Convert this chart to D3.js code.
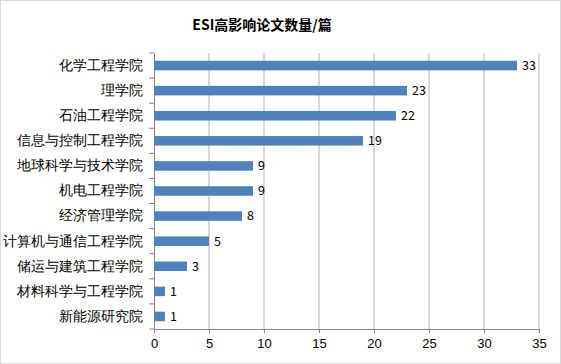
<!DOCTYPE html>
<html>
<head>
<meta charset="utf-8">
<style>
    body { margin: 0; background: #fff; }
    svg { display: block; font-family: "Noto Sans CJK SC", "Microsoft YaHei", sans-serif; }
    .y .domain, .x .domain { stroke: #868686; }
    .y .tick line, .x .tick line { stroke: #868686; }
    .tick text { fill: #000; }
    .y .tick text { font-size: 13.5px; }
    .x .tick text { font-size: 13px; }
    .grid line { stroke: #b3b3b3; }
    .label { font-size: 12.5px; fill: #000; }
</style>
</head>
<body>
<svg width="561" height="364"></svg>
<script src="https://d3js.org/d3.v7.min.js"></script>
<script>
    let colleges = ["化学工程学院", "理学院", "石油工程学院", "信息与控制工程学院", "地球科学与技术学院",
        "机电工程学院", "经济管理学院", "计算机与通信工程学院", "储运与建筑工程学院", "材料科学与工程学院", "新能源研究院"];
    let papers = [33, 23, 22, 19, 9, 9, 8, 5, 3, 1, 1];
    let xTicks = [0, 5, 10, 15, 20, 25, 30, 35];

    let width = 561, height = 364;
    let margin = { top: 53, right: 22, bottom: 35, left: 154 };

    let svg = d3.select("svg");

    // outer border
    svg.append("rect")
        .attr("x", 0.5).attr("y", 0.5)
        .attr("width", width - 1).attr("height", height - 1)
        .attr("fill", "#fff")
        .attr("stroke", "#d9d9d9");

    svg.append("text")
        .attr("x", 262)
        .attr("y", 30)
        .attr("text-anchor", "middle")
        .style("font-size", "14px")
        .style("font-weight", "bold")
        .text("ESI高影响论文数量/篇");

    let x = d3.scaleLinear()
        .domain([0, 35])
        .range([margin.left, 539]);

    let y = d3.scaleBand()
        .domain(colleges)
        .range([margin.top, height - margin.bottom])
        .paddingInner(0.62)
        .paddingOuter(0.31);

    // gridlines
    svg.append("g")
        .attr("class", "grid")
        .selectAll("line")
        .data(xTicks.slice(1))
        .join("line")
        .attr("x1", d => x(d)).attr("x2", d => x(d))
        .attr("y1", margin.top).attr("y2", height - margin.bottom);

    svg.append("g")
        .attr("class", "x axis")
        .attr("transform", `translate(0,${height - margin.bottom})`)
        .call(d3.axisBottom(x).tickValues(xTicks).tickSize(4).tickPadding(6).tickSizeOuter(0));

    // y axis: ticks at category boundaries
    let yAxis = svg.append("g")
        .attr("class", "y axis")
        .attr("transform", `translate(${margin.left},0)`)
        .call(d3.axisLeft(y).tickSize(0).tickPadding(11));

    let step = y.step();
    yAxis.selectAll(".bound")
        .data(d3.range(colleges.length + 1))
        .join("line")
        .attr("class", "bound")
        .attr("x1", -5).attr("x2", 0)
        .attr("y1", i => margin.top + i * step)
        .attr("y2", i => margin.top + i * step)
        .attr("stroke", "#868686");

    svg.append("g")
        .selectAll("rect")
        .data(colleges)
        .join("rect")
        .attr("x", x(0))
        .attr("y", d => y(d))
        .attr("width", (d, i) => x(papers[i]) - x(0))
        .attr("height", y.bandwidth())
        .attr("fill", "#4f81bd");

    svg.append("g")
        .selectAll("text")
        .data(colleges)
        .join("text")
        .attr("class", "label")
        .attr("x", (d, i) => x(papers[i]) + 5)
        .attr("y", d => y(d) + y.bandwidth() / 2)
        .attr("dy", "0.35em")
        .text((d, i) => papers[i]);
</script>
</body>
</html>
